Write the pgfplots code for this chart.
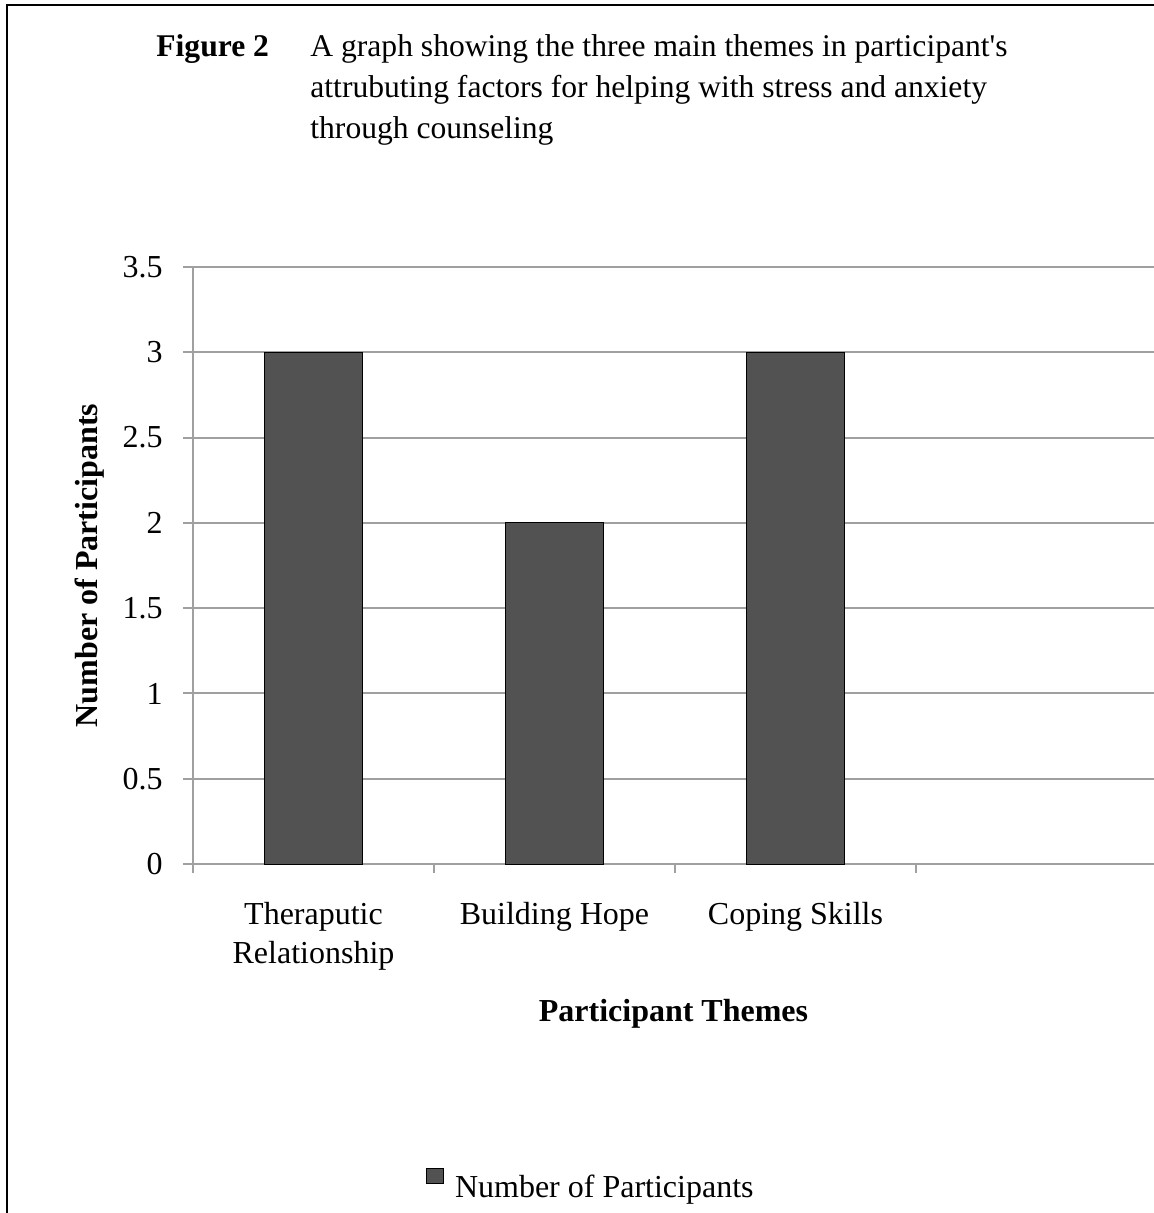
\documentclass[border=0pt]{standalone}
\usepackage{fontspec}
\setmainfont{Liberation Serif}
\usepackage{pgfplots}
\pgfplotsset{compat=1.18}
\definecolor{gridc}{RGB}{160,160,160}
\definecolor{barc}{RGB}{82,82,82}
\newcommand\fs{\fontsize{16}{19.5}\selectfont}
\newcommand\ft{\fontsize{15.8}{19.5}\selectfont}
\begin{document}
\begin{tikzpicture}
\useasboundingbox (0pt,0pt) rectangle (577pt,-606.5pt);
\draw[line width=1pt] (3.5pt,-612pt) -- (3.5pt,-2.5pt) -- (582pt,-2.5pt);
\node[anchor=base west, inner sep=0pt, font=\ft\bfseries] at (78pt,-28.5pt) {Figure 2};
\node[anchor=base west, inner sep=0pt, font=\ft] at (155pt,-28.5pt) {A graph showing the three main themes in participant\textquotesingle s};
\node[anchor=base west, inner sep=0pt, font=\ft] at (155pt,-49pt) {attrubuting factors for helping with stress and anxiety};
\node[anchor=base west, inner sep=0pt, font=\ft] at (155pt,-69.5pt) {through counseling};
\begin{axis}[
  at={(96.5pt,-432pt)}, anchor=south west,
  scale only axis, width=480.5pt, height=298.5pt,
  xmin=0, xmax=3.9876, ymin=0, ymax=3.5, enlargelimits=false,
  axis x line*=bottom, axis y line*=left,
  axis line style={draw=gridc, line width=1pt},
  ymajorgrids, major grid style={draw=gridc, line width=1pt},
  ytick={0,0.5,...,3.5},
  xtick={0.5,1.5,2.5},
  xticklabels={Theraputic\\Relationship, Building Hope, Coping Skills},
  minor xtick={0,1,2,3},
  tick align=outside,
  major tick length=5pt, minor tick length=4.5pt,
  major x tick style={draw=none},
  minor x tick style={draw=gridc, line width=1pt},
  ytick style={draw=gridc, line width=1pt},
  xticklabel style={font=\fs, align=center, anchor=north, inner sep=0pt, yshift=-14pt},
  yticklabel style={font=\fs, anchor=east, inner sep=0pt, xshift=-10pt},
  /pgf/number format/assume math mode=true,
  xlabel={Participant Themes}, ylabel={Number of Participants},
  xlabel style={font=\fs\bfseries, at={(axis description cs:0.5,-0.263)}, anchor=base},
  ylabel style={font=\fs\bfseries, at={(axis description cs:-0.1072,0.5)}, anchor=center},
  legend style={draw=none, fill=none, inner sep=0pt, outer sep=0pt,
    nodes={inner sep=0pt, font=\fs},
    at={(axis description cs:0.24246,-0.50921)}, anchor=north west},
  ybar, bar width=49pt,
]
\addplot[fill=barc, draw=black, line width=0.5pt,
  legend image code/.code={\draw[fill=barc,draw=black,line width=0.5pt] (0pt,2pt) rectangle (8.5pt,9.5pt); \path (14pt,0pt);}]
  coordinates {(0.5,3) (1.5,2) (2.5,3)};
\addlegendentry{Number of Participants}
\end{axis}
\end{tikzpicture}
\end{document}
